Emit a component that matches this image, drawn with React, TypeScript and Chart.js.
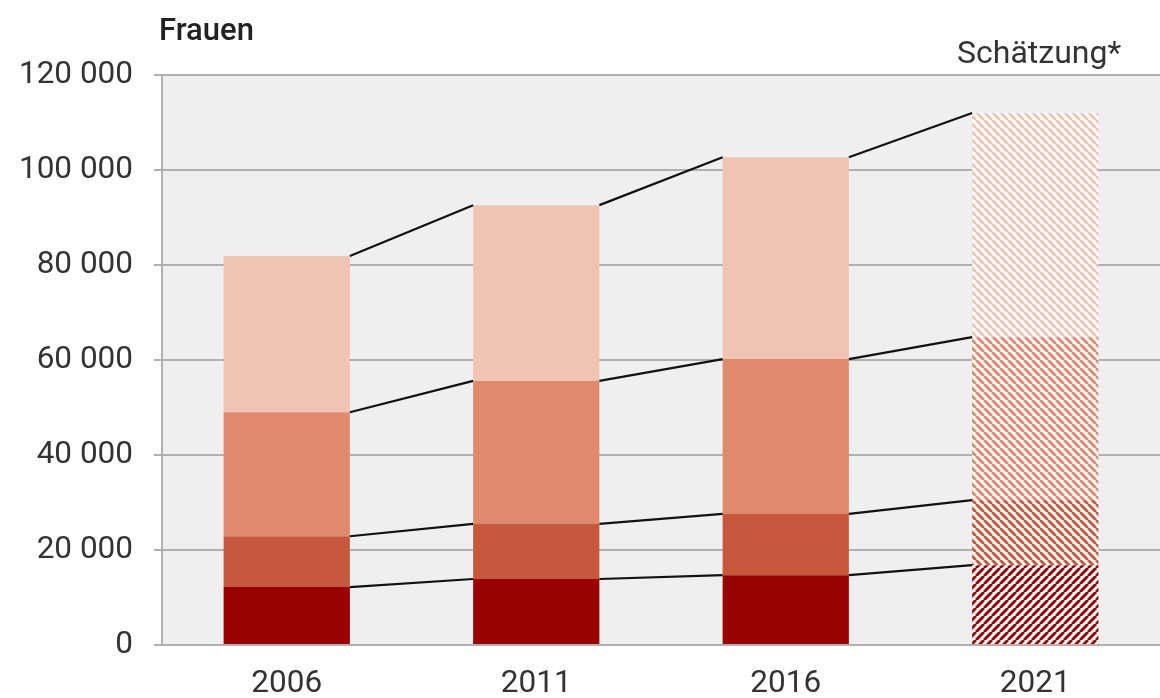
import React, { useEffect, useRef } from "react";
import { Chart, registerables } from "chart.js";

Chart.register(...registerables);

const categories = ["2006", "2011", "2016", "2021"];
const seg1 = [12200, 13900, 14700, 16800];
const seg2 = [10700, 11600, 12900, 13700];
const seg3 = [26100, 30100, 32600, 34300];
const seg4 = [32900, 37000, 42500, 47200];
const segColors = ["#990000", "#c8583d", "#df8a6e", "#f0c4b3"];
const hatchDirs = ["/", "\\", "\\", "\\"];
const estimateIndex = 3;
const titleText = "Frauen";
const estimateText = "Schätzung*";
const yMin = 0;
const yMax = 120000;
const yStep = 20000;

const FONT = "Roboto, 'Noto Sans', sans-serif";

function makeHatch(color: string, dir: string) {
  const s = 8;
  const c = document.createElement("canvas");
  c.width = s;
  c.height = s;
  const g = c.getContext("2d")!;
  g.fillStyle = "#ffffff";
  g.fillRect(0, 0, s, s);
  g.strokeStyle = color;
  g.lineWidth = 3;
  g.beginPath();
  for (const k of [-s, 0, s]) {
    if (dir === "\\") {
      g.moveTo(k, 0);
      g.lineTo(k + s, s);
    } else {
      g.moveTo(k, s);
      g.lineTo(k + s, 0);
    }
  }
  g.stroke();
  return g.createPattern(c, "repeat") as CanvasPattern;
}

export default function App() {
  const ref = useRef<HTMLCanvasElement>(null);

  useEffect(() => {
    document.body.style.margin = "0";
    const canvas = ref.current!;
    const series = [seg1, seg2, seg3, seg4];

    const datasets = series.map((vals, d) => {
      const pattern = makeHatch(segColors[d], hatchDirs[d]);
      return {
        label: "s" + d,
        data: vals,
        backgroundColor: categories.map((_, i) => (i === estimateIndex ? pattern : segColors[d])),
        borderWidth: 0,
        barPercentage: 0.506,
        categoryPercentage: 1,
      };
    });

    const bgPlugin = {
      id: "bg",
      beforeDraw(chart: any) {
        const { ctx, chartArea } = chart;
        ctx.save();
        ctx.fillStyle = "#efefef";
        ctx.fillRect(chartArea.left, chartArea.top, chartArea.right - chartArea.left, chartArea.bottom - chartArea.top);
        ctx.restore();
      },
    };

    const linesPlugin = {
      id: "connect",
      afterDatasetsDraw(chart: any) {
        const { ctx } = chart;
        ctx.save();
        ctx.strokeStyle = "#111";
        ctx.lineWidth = 2.2;
        for (let d = 0; d < chart.data.datasets.length; d++) {
          const meta = chart.getDatasetMeta(d);
          for (let i = 0; i < meta.data.length - 1; i++) {
            const a = meta.data[i];
            const b = meta.data[i + 1];
            ctx.beginPath();
            ctx.moveTo(a.x + a.width / 2, a.y);
            ctx.lineTo(b.x - b.width / 2, b.y);
            ctx.stroke();
          }
        }
        ctx.restore();
      },
    };

    const textPlugin = {
      id: "texts",
      afterDraw(chart: any) {
        const { ctx } = chart;
        ctx.save();
        ctx.fillStyle = "#222";
        ctx.textBaseline = "alphabetic";
        ctx.textAlign = "left";
        ctx.font = `500 31px ${FONT}`;
        ctx.fillText(titleText, 159, 40);
        ctx.font = `32px ${FONT}`;
        ctx.fillStyle = "#333";
        ctx.textAlign = "left";
        ctx.fillText(estimateText, 957, 63);
        ctx.restore();
      },
    };

    const chart = new Chart(canvas, {
      type: "bar",
      data: { labels: categories, datasets },
      options: {
        animation: false,
        responsive: false,
        maintainAspectRatio: false,
        layout: { padding: { top: 75, right: -6, left: 0, bottom: 0 } },
        plugins: { legend: { display: false }, tooltip: { enabled: false } },
        scales: {
          x: {
            stacked: true,
            grid: { display: false },
            border: { display: false },
            ticks: { color: "#333", font: { family: FONT, size: 31.5 }, padding: 12 },
            afterFit(scale: any) {
              scale.height = 53;
            },
          },
          y: {
            stacked: true,
            min: yMin,
            max: yMax,
            grid: { color: "#b0b0b0", lineWidth: 2, tickLength: 8 },
            border: { display: true, color: "#b0b0b0", width: 2 },
            ticks: {
              stepSize: yStep,
              color: "#333",
              padding: 21,
              font: { family: FONT, size: 31.5 },
              callback: (v: any) => String(v).replace(/\B(?=(\d{3})+(?!\d))/g, " "),
            },
            afterFit(scale: any) {
              scale.width = 162;
            },
          },
        },
      },
      plugins: [bgPlugin, linesPlugin, textPlugin],
    });
    return () => chart.destroy();
  }, []);

  return (
    <div style={{ position: "absolute", left: 0, top: 0, width: 1160, height: 698 }}>
      <canvas ref={ref} width={1160} height={698} style={{ display: "block" }} />
    </div>
  );
}
